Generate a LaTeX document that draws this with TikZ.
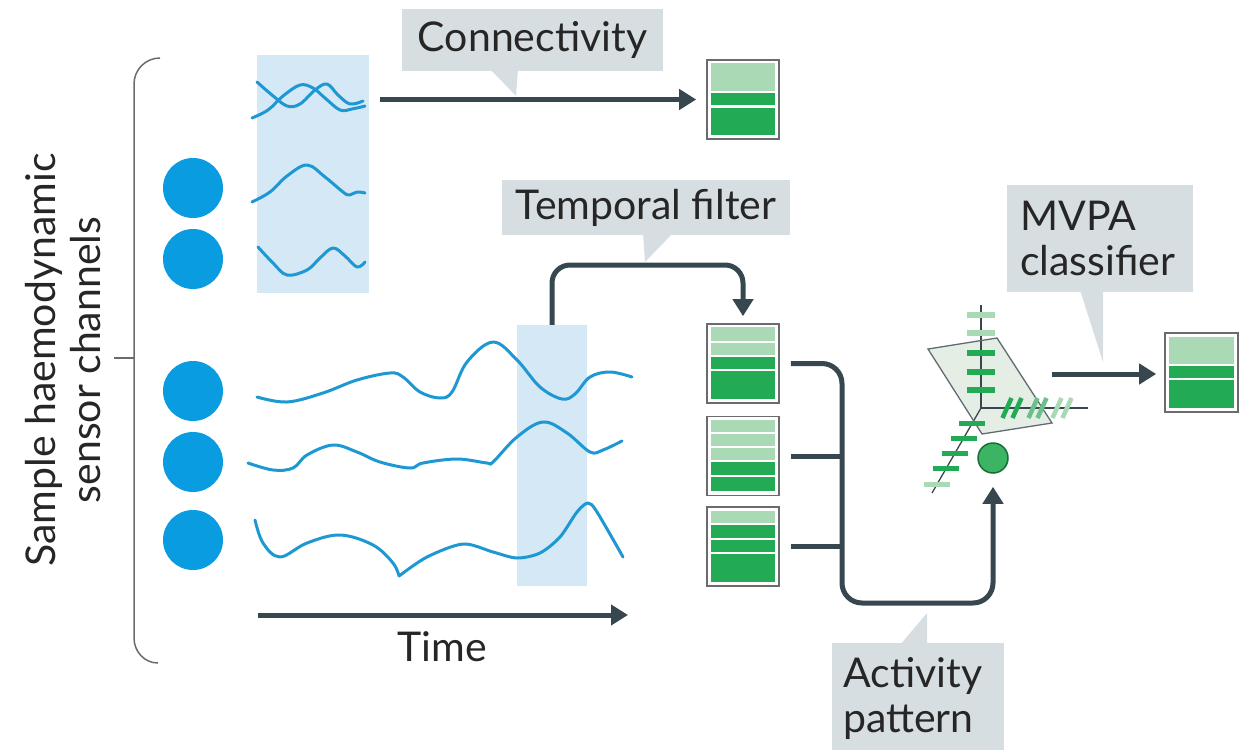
\documentclass[tikz,border=0pt]{standalone}
\usepackage{fontspec}
\setmainfont{Lato}
\usetikzlibrary{arrows.meta}

\definecolor{arrowc}{HTML}{37474F}
\definecolor{calloutc}{HTML}{D7DEE2}
\definecolor{winc}{HTML}{D5E8F5}
\definecolor{wavec}{HTML}{1E98D3}
\definecolor{dotc}{HTML}{0A9CE0}
\definecolor{gdark}{HTML}{22AA55}
\definecolor{gmid}{HTML}{6CC08A}
\definecolor{glight}{HTML}{A9D9B5}
\definecolor{gball}{HTML}{3DB464}
\definecolor{boxedge}{HTML}{6B6B6B}
\definecolor{textc}{HTML}{262626}
\definecolor{planec}{HTML}{DCE8DC}

% one coloured bar inside a pattern box: node, top y, bottom y, colour
\newcommand\gbar[4]{\fill[#4] ([xshift=5pt]#1.west |- 0,#2) rectangle ([xshift=-5pt]#1.east |- 0,#3);}

\begin{document}
\begin{tikzpicture}[x=1pt,y=-1pt,
  arr/.style={draw=arrowc, line width=5pt, -{Triangle[length=17pt,width=20pt]}},
  link/.style={draw=arrowc, line width=5pt},
  wave/.style={draw=wavec, line width=3pt, line cap=round, line join=round},
  callout/.style={fill=calloutc, text=textc, font=\fontsize{41}{45}\selectfont, inner sep=0pt},
  label/.style={text=textc, font=\fontsize{41}{45}\selectfont, inner sep=0pt},
  dot/.style={circle, fill=dotc, minimum size=60pt, inner sep=0pt},
  win/.style={fill=winc, inner sep=0pt},
  patbox/.style={draw=boxedge, line width=1.6pt, fill=white, minimum width=72pt, minimum height=79pt, inner sep=0pt},
  tick/.style={line width=6pt},
]
\useasboundingbox (0,0) rectangle (1254,750);
\clip (0,0) rectangle (1254,750);

% bracket grouping the channels, with its label
\draw[boxedge, line width=1.5pt] (160,58) to[out=180,in=90] (134,84) -- (134,638) to[out=-90,in=180] (158,663);
\coordinate (brk) at (134,358);
\draw[boxedge, line width=1.5pt] (brk) -- ++(-20,0);
\node[label, rotate=90, align=center] (chan) at (63,360) {Sample haemodynamic\\sensor channels};

% sensor channels
\node[dot] (s1) at (193,188) {};
\node[dot] (s2) at (193,259) {};
\node[dot] (s3) at (193,391) {};
\node[dot] (s4) at (193,462) {};
\node[dot] (s5) at (193,540) {};

% time windows
\node[win, minimum width=112pt, minimum height=238pt] (winA) at (313,174) {};
\node[win, minimum width=70pt, minimum height=261pt] (winB) at (552,455.5) {};

% signals in the connectivity window
\draw[wave] plot[smooth, tension=0.6] coordinates {(257,82) (272,95) (287,106) (300,104) (315,90) (327,84) (338,95) (350,104) (363,101)};
\draw[wave] plot[smooth, tension=0.6] coordinates {(252,118) (268,110) (283,96) (300,85) (313,88) (325,98) (340,110) (352,109) (365,106)};
\draw[wave] plot[smooth, tension=0.6] coordinates {(252,202) (270,192) (287,176) (307,165) (325,177) (343,192) (349,195) (357,192) (365,193)};
\draw[wave] plot[smooth, tension=0.6] coordinates {(258,247) (273,263) (287,275) (307,270) (320,258) (333,248) (345,256) (357,267) (365,262)};

% full-length signals
\draw[wave] plot[smooth, tension=0.6] coordinates {(257,397) (287,402) (323,393) (357,380) (390,373) (403,377) (420,392) (440,398) (452,392) (467,362) (493,342) (517,360) (540,387) (562,399) (575,394) (590,377) (610,372) (632,377)};
\draw[wave] plot[smooth, tension=0.6] coordinates {(248,463) (273,470) (293,468) (307,455) (333,445) (357,452) (380,462) (410,468) (423,463) (457,459) (487,463) (493,462) (517,437) (543,422) (567,433) (590,452) (603,450) (622,441)};
\draw[wave] plot[smooth, tension=0.6] coordinates {(255,520) (263,543) (280,557) (307,543) (340,535) (373,545) (393,563) (399,576)};
\draw[wave] plot[smooth, tension=0.5] coordinates {(399,576) (427,557) (463,544) (493,552) (517,558) (540,553) (560,537) (577,512) (588,503) (597,512) (623,557)};

% time axis
\coordinate (t0) at (258,615);
\coordinate (t1) at (628,615);
\draw[arr] (t0) -- (t1);
\node[label] (time) at (442,647) {Time};

% pattern boxes
\node[patbox] (bC) at (743,99.5) {};
\gbar{bC}{63}{91}{glight}
\gbar{bC}{93}{105}{gdark}
\gbar{bC}{108}{135}{gdark}

\node[patbox] (bP1) at (743,363.5) {};
\gbar{bP1}{327}{341}{glight}
\gbar{bP1}{343}{355}{glight}
\gbar{bP1}{357}{369}{gdark}
\gbar{bP1}{371}{399}{gdark}

\node[patbox] (bP2) at (743,456) {};
\gbar{bP2}{420}{432}{glight}
\gbar{bP2}{434}{446}{glight}
\gbar{bP2}{448}{460}{glight}
\gbar{bP2}{462}{475}{gdark}
\gbar{bP2}{477}{491}{gdark}

\node[patbox] (bP3) at (743,546.5) {};
\gbar{bP3}{511}{523}{glight}
\gbar{bP3}{525}{538}{gdark}
\gbar{bP3}{540}{552}{gdark}
\gbar{bP3}{554}{582}{gdark}

\node[patbox, minimum width=73pt] (bR) at (1201.5,372.5) {};
\gbar{bR}{337}{364}{glight}
\gbar{bR}{366}{378}{gdark}
\gbar{bR}{380}{408}{gdark}

% connectivity
\draw[arr, shorten <=11pt, shorten >=10pt] (winA.east |- bC) -- (bC.west);

% temporal filter
\coordinate (tf) at (0,265);
\draw[arr, rounded corners=18pt, shorten >=7pt] (winB.north) -- (winB.north |- tf) -| (bP1.north);

% feature space of the classifier
\coordinate (O) at (981,408);
\coordinate (V) at (981,305);
\coordinate (H) at (1088,408);
\coordinate (D) at (932,493);
\fill[planec, fill opacity=0.75] (928,349) -- (997,338) -- (1052,423) -- (982,434) -- cycle;
\draw[arrowc, line width=1.3pt] (V) -- (O) -- (H);
\draw[arrowc, line width=1.3pt] (O) -- (D);
\draw[arrowc!80, line width=1.3pt] (928,349) -- (997,338) -- (1052,423) -- (982,434) -- cycle;
\foreach \y/\c in {315/glight, 333/glight, 353/gdark, 372/gdark, 390/gdark}
  \draw[tick, \c] (967,\y) -- (995,\y);
\foreach \x/\c in {1007/gdark, 1017/gdark, 1033/gmid, 1042/gmid, 1057/glight, 1067/glight}
  \draw[\c, line width=4.5pt] (\x-4.5,418) -- (\x+4.5,398);
\foreach \y/\c in {423/gdark, 438/gdark, 453/gdark, 468/gdark, 484/glight}
  \draw[\c, line width=5pt] ({981-(\y-408)*49/85-13},\y) -- ({981-(\y-408)*49/85+13},\y);
\node[circle, fill=gball, draw=gdark!65!black, line width=1.5pt, minimum size=30pt, inner sep=0pt] (gc) at (993,458) {};

% activity pattern collection
\coordinate (trunk) at (842,603);
\draw[arr, rounded corners=20pt, shorten >=13pt] ([xshift=11pt]bP1.east) -| (trunk) -| (gc.south);
\draw[link] ([xshift=11pt]bP2.east) -- (bP2.east -| trunk);
\draw[link] ([xshift=11pt]bP3.east) -- (bP3.east -| trunk);

% classifier output
\coordinate (mv) at (1052,374);
\draw[arr, shorten >=8pt] (mv) -- (bR.west |- mv);

% callouts
\node[callout, minimum width=261pt, minimum height=62pt] (cC) at (532.5,40) {Connectivity};
\fill[calloutc] (490,69) -- (518,69) -- (516,96) -- cycle;

\node[callout, minimum width=288pt, minimum height=55pt] (cT) at (646,207.5) {Temporal filter};
\fill[calloutc] (643,233) -- (673,233) -- (645,262) -- cycle;

\node[callout, anchor=north west, minimum width=183pt, minimum height=107pt, text width=160pt, inner xsep=13pt, align=left] (cM) at (1007,185) {MVPA\\classifier};
\fill[calloutc] (1080,290) -- (1103,290) -- (1103,362) -- cycle;

\fill[calloutc] (832,700) rectangle (1003,760);
\node[callout, anchor=north west, text width=150pt, inner xsep=11pt, inner ysep=14pt, align=left] (cA) at (832,643) {Activity\\pattern};
\fill[calloutc] (900,645) -- (927,645) -- (927,613) -- cycle;
\end{tikzpicture}
\end{document}
